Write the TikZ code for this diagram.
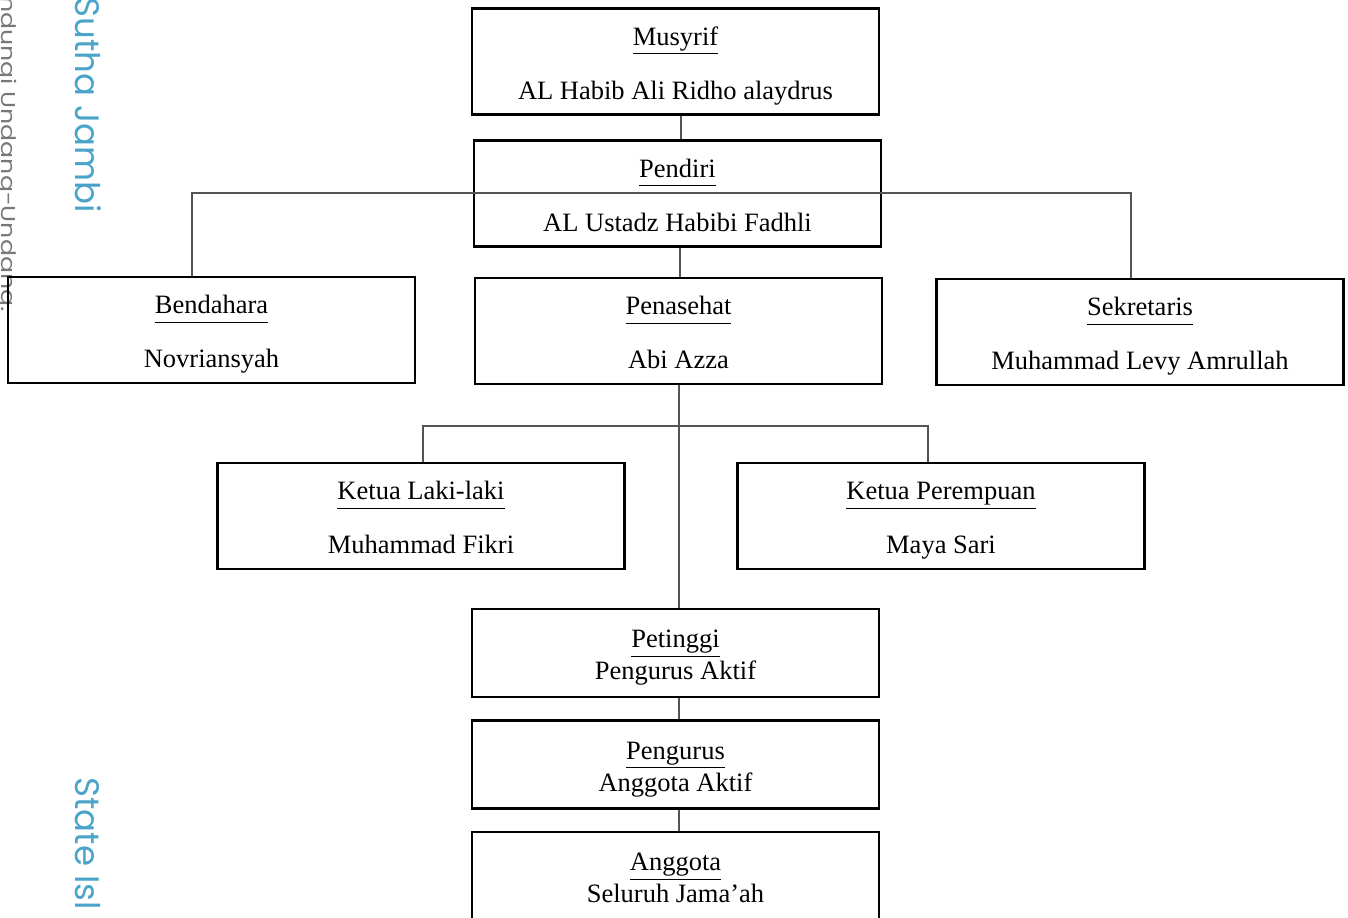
\documentclass[tikz,border=0pt]{standalone}
\usepackage{fontspec}
\setmainfont{Liberation Serif}
\newfontfamily\markfont{Poppins}
\usepackage{xcolor}
\definecolor{markblue}{RGB}{74,163,200}
\definecolor{markgray}{RGB}{120,120,120}
\definecolor{linkgray}{RGB}{85,85,85}
\newcommand\orgtitle[1]{\rule{0pt}{13.5pt}\underline{#1\vphantom{gy}}}
\newcommand\orgname[1]{#1\vphantom{gy}}
\tikzset{
  orgbox/.style={
    draw=black, line width=1.4pt, rectangle, align=center,
    minimum width=203.5pt, minimum height=53pt, inner sep=0pt,
    font=\fontsize{13.25pt}{16pt}\selectfont
  }}
\tikzset{
  orgboxsmall/.style={
    orgbox, minimum height=44pt
  }}
\tikzset{
  link/.style={draw=linkgray, line width=0.7pt}
}

\begin{document}
\begin{tikzpicture}[x=0.5pt,y=-0.5pt]
    \useasboundingbox (0,0) rectangle (1348,917);
    % watermark
    \node[rotate=-90, anchor=base east, text=markblue, font=\markfont\fontsize{17pt}{20pt}\selectfont,
          inner sep=0pt] (markA) at (75,213) {Sutha Jambi};
    \node[rotate=-90, anchor=base west, text=markblue, font=\markfont\fontsize{17pt}{20pt}\selectfont,
          inner sep=0pt] (markB) at (75,777) {State Isl};
    \node[rotate=-90, anchor=base east, text=markgray, font=\markfont\fontsize{10pt}{12pt}\selectfont,
          inner sep=0pt] (markC) at (2,312) {\scalebox{1.26}[1]{ndungi Undang-Undang.}};
    % boxes
    \node[orgbox] (musyrif) at (675.5,61.5) {\orgtitle{Musyrif}\\[11pt]\orgname{AL Habib Ali Ridho alaydrus}};
    \node[orgbox] (pendiri) at (677.5,193.5) {\orgtitle{Pendiri}\\[11pt]\orgname{AL Ustadz Habibi Fadhli}};
    \node[orgbox] (bendahara) at (211.5,330) {\orgtitle{Bendahara}\\[11pt]\orgname{Novriansyah}};
    \node[orgbox] (penasehat) at (678.5,331) {\orgtitle{Penasehat}\\[11pt]\orgname{Abi Azza}};
    \node[orgbox] (sekretaris) at (1140,332) {\orgtitle{Sekretaris}\\[11pt]\orgname{Muhammad Levy Amrullah}};
    \node[orgbox] (ketuaL) at (421,516) {\orgtitle{Ketua Laki-laki}\\[11pt]\orgname{Muhammad Fikri}};
    \node[orgbox] (ketuaP) at (941,516) {\orgtitle{Ketua Perempuan}\\[11pt]\orgname{Maya Sari}};
    \node[orgboxsmall] (petinggi) at (675.5,653) {\orgtitle{Petinggi}\\\orgname{Pengurus Aktif}};
    \node[orgboxsmall] (pengurus) at (675.5,764.5) {\orgtitle{Pengurus}\\\orgname{Anggota Aktif}};
    \node[orgboxsmall] (anggota) at (675.5,876) {\orgtitle{Anggota}\\\orgname{Seluruh Jama'ah}};
    % connectors
    \coordinate (topL) at (192,193);
    \coordinate (topR) at (1131,193);
    \coordinate (midL) at (423,426);
    \coordinate (midR) at (928,426);
    \draw[link] (musyrif.south -| 681,0) -- (pendiri.north -| 681,0);
    \draw[link] (bendahara.north -| topL) -- (topL) -- (topR) -- (sekretaris.north -| topR);
    \draw[link] (pendiri.south -| 680,0) -- (penasehat.north -| 680,0);
    \draw[link] (penasehat.south -| 679,0) -- (petinggi.north -| 679,0);
    \draw[link] (ketuaL.north -| midL) -- (midL) -- (midR) -- (ketuaP.north -| midR);
    \draw[link] (petinggi.south -| 679,0) -- (pengurus.north -| 679,0);
    \draw[link] (pengurus.south -| 679,0) -- (anggota.north -| 679,0);
\end{tikzpicture}
\end{document}
